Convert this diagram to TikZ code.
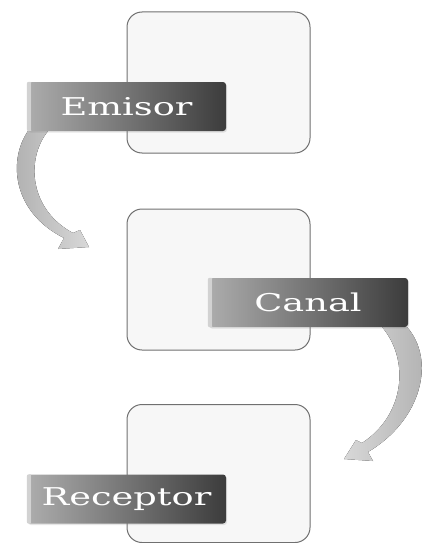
\documentclass[tikz,border=0pt]{standalone}
\usepackage{fontspec}
\setmainfont{DejaVu Serif}
\usetikzlibrary{calc,shadows}
\newcommand\widetext[1]{\scalebox{1.5}[1]{#1}}
\definecolor{boxfill}{HTML}{F7F7F7}
\definecolor{boxline}{HTML}{707070}
\definecolor{tagleft}{HTML}{ADADAD}
\definecolor{tagright}{HTML}{3C3C3C}
\definecolor{arrowlight}{HTML}{D8D8D8}
\definecolor{arrowdark}{HTML}{AEAEAE}
\tikzset{
  panel/.style={draw=boxline, line width=1pt, fill=boxfill, rounded corners=15pt,
    minimum width=183pt, minimum height=141pt, inner sep=0pt},
  tag/.style={rounded corners=3pt, left color=tagleft, right color=tagright,
    text=white, minimum height=49pt, inner sep=0pt,
    font=\fontsize{24.5}{28}\selectfont,
    drop shadow={opacity=0.2, shadow xshift=1pt, shadow yshift=-1.5pt}},
  tagstrip/.style={fill=gray!35},
  bigarrow/.style={left color=arrowdark, right color=arrowlight, draw=none}
}
\begin{document}
\begin{tikzpicture}[x=1pt,y=-1pt]
\useasboundingbox (0,0) rectangle (423,543);
% panels
\node[panel] (p1) at (218.5,82.5) {};
\node[panel] (p2) at (218.5,279.5) {};
\node[panel, minimum height=138pt] (p3) at (218.5,473.5) {};
% arrows
\fill[bigarrow] (28,131) .. controls (8,160) and (12,212) .. (64,238)
   -- (58,249) -- (89,247) -- (80,230) -- (73,233)
   .. controls (30,210) and (25,160) .. (48,131) -- cycle;
\fill[bigarrow, left color=arrowlight, right color=arrowdark]
   (407,327) .. controls (436,360) and (422,420) .. (368,452)
   -- (373,461) -- (344,459) -- (356,440) -- (362,443)
   .. controls (405,415) and (410,360) .. (382,327) -- cycle;
% tags
\node[tag, minimum width=199pt] (t1) at (126.5,106.5) {\widetext{Emisor}};
\node[tag, minimum width=200pt] (t2) at (308,302.5) {\widetext{Canal}};
\node[tag, minimum width=199pt] (t3) at (126.5,499) {\widetext{Receptor}};
\foreach \t in {t1,t2,t3}{
  \fill[tagstrip, rounded corners=2pt] (\t.south west) rectangle ($(\t.north west)+(5,0)$);
  \draw[gray!65, line width=0.8pt] ($(\t.south west)+(5,-1)$) -- ($(\t.north west)+(5,1)$);
}
\end{tikzpicture}
\end{document}
